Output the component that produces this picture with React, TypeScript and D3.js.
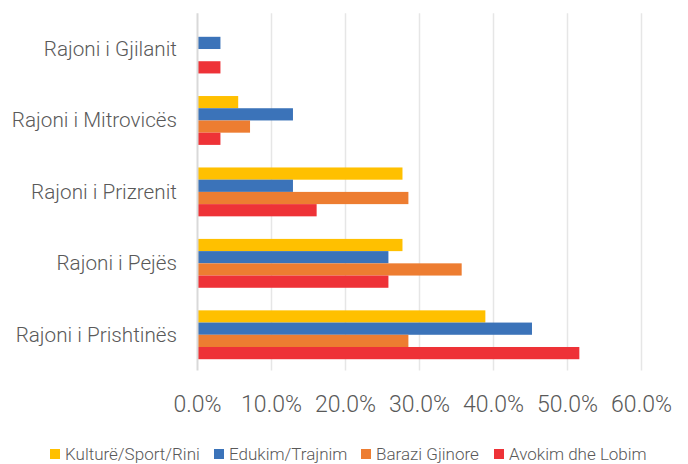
import React from 'react';
import { scaleLinear, scaleBand } from 'd3';

const categories = ['Rajoni i Gjilanit', 'Rajoni i Mitrovicës', 'Rajoni i Prizrenit', 'Rajoni i Pejës', 'Rajoni i Prishtinës'];
const seriesNames = ['Kulturë/Sport/Rini', 'Edukim/Trajnim', 'Barazi Gjinore', 'Avokim dhe Lobim'];
const seriesColors = ['#FFC000', '#3B73B9', '#ED7D31', '#EE3237'];

// values per category, same order as categories
const kultureSportRini = [0, 5.5, 27.7, 27.7, 38.9];
const edukimTrajnim = [3.1, 12.9, 12.9, 25.8, 45.2];
const baraziGjinore = [0, 7.1, 28.5, 35.7, 28.5];
const avokimLobim = [3.1, 3.1, 16.1, 25.8, 51.6];
const seriesValues = [kultureSportRini, edukimTrajnim, baraziGjinore, avokimLobim];

const xTicks = [0, 10, 20, 30, 40, 50, 60];

const W = 688;
const H = 464;
const left = 197.5;
const right = 641.5;
const top = 13.3;
const bottom = 370.5;
const font = 'Roboto, "Noto Sans", sans-serif';
const textColor = '#595959';

export default function App() {
  const x = scaleLinear().domain([0, 60]).range([left, right]);
  const y = scaleBand().domain(categories).range([top, bottom]).paddingInner(0.316).paddingOuter(0.158);
  const inner = scaleBand<number>().domain([0, 1, 2, 3]).range([0, y.bandwidth()]);

  const legendX = [50, 214, 361, 494];

  return (
    <svg width={W} height={H} style={{ position: 'absolute', left: 0, top: 0 }}>
      <rect width={W} height={H} fill="#fff" />
      {xTicks.slice(1).map((t) => (
        <line key={t} x1={x(t)} x2={x(t)} y1={top} y2={bottom} stroke="#e6e6e6" strokeWidth={1.5} />
      ))}
      {categories.map((c, ci) => (
        <g key={c}>
          {seriesValues.map((vals, si) =>
            vals[ci] > 0 ? (
              <rect
                key={si}
                x={x(0)}
                y={(y(c) as number) + (inner(si) as number)}
                width={x(vals[ci]) - x(0)}
                height={inner.bandwidth()}
                fill={seriesColors[si]}
              />
            ) : null
          )}
          <text
            x={177}
            y={(y(c) as number) + y.bandwidth() / 2 + 7}
            textAnchor="end"
            fontFamily={font}
            fontWeight={300}
            fontSize={20.7}
            fill={textColor}
          >
            {c}
          </text>
        </g>
      ))}
      <line x1={x(0)} x2={x(0)} y1={top} y2={bottom} stroke="#d9d9d9" strokeWidth={2} />
      {xTicks.map((t) => (
        <text
          key={t}
          x={x(t)}
          y={412}
          textAnchor="middle"
          fontFamily={font}
          fontWeight={300}
          fontSize={23}
          fill={textColor}
        >
          {t.toFixed(1) + '%'}
        </text>
      ))}
      {seriesNames.map((s, i) => (
        <g key={s}>
          <rect x={legendX[i]} y={449} width={10} height={10} fill={seriesColors[i]} />
          <text x={legendX[i] + 15} y={459.5} fontFamily={font} fontWeight={300} fontSize={17} fill={textColor}>
            {s}
          </text>
        </g>
      ))}
    </svg>
  );
}
